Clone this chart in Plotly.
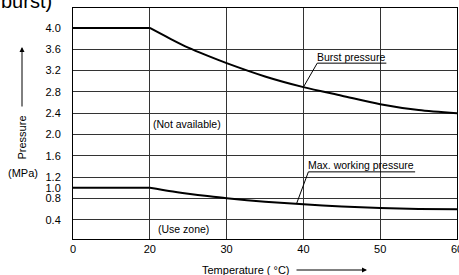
import plotly.graph_objects as go

# ---- data ----
temps = [0, 20, 22.5, 25, 27.5, 30, 35, 40, 45, 50, 55, 60]
burst_pressure = [4.0, 4.0, 3.81, 3.63, 3.48, 3.34, 3.09, 2.89, 2.73, 2.57, 2.46, 2.40]
max_working_pressure = [1.0, 1.0, 0.94, 0.89, 0.845, 0.805, 0.74, 0.69, 0.65, 0.62, 0.605, 0.60]

x_tick_temps = [0, 20, 30, 40, 50, 60]
x_tick_labels = ["0", "20", "30", "40", "50", "60"]
y_tick_vals = [4.0, 3.6, 3.2, 2.8, 2.4, 2.0, 1.6, 1.2, 1.0, 0.8, 0.4]
y_grid_vals = [3.6, 3.2, 2.8, 2.4, 2.0, 1.6, 1.2, 0.8, 0.4]


def temp_to_pos(t):
    # the axis compresses 0-20 °C into one grid cell
    return t / 20.0 if t <= 20 else 1.0 + (t - 20) / 10.0


xs = [temp_to_pos(t) for t in temps]
FONT = "Liberation Sans, Arial, sans-serif"

fig = go.Figure()
for vals in (burst_pressure, max_working_pressure):
    # flat part (0-20 °C) straight, the falling part smooth
    fig.add_trace(go.Scatter(x=xs[:2], y=vals[:2], mode="lines",
                             line=dict(color="black", width=2), hoverinfo="skip"))
    fig.add_trace(go.Scatter(x=xs[1:], y=vals[1:], mode="lines",
                             line=dict(color="black", width=2, shape="spline", smoothing=0.8),
                             hoverinfo="skip"))

fig.update_layout(
    width=459, height=275,
    margin=dict(l=73, r=2, t=8, b=36, autoexpand=False),
    paper_bgcolor="white", plot_bgcolor="white",
    showlegend=False,
    font=dict(family=FONT, size=11, color="black"),
    xaxis=dict(range=[0, 5], tickmode="array",
               tickvals=[temp_to_pos(t) for t in x_tick_temps],
               ticktext=x_tick_labels,
               showgrid=True, gridcolor="#333", gridwidth=1,
               showline=True, linecolor="black", linewidth=1, mirror=True,
               ticks="", zeroline=False, ticklabelstandoff=0, automargin=False,
               ticklabeloverflow="allow", tickfont=dict(size=11)),
    yaxis=dict(range=[0.04, 4.375], tickmode="array",
               tickvals=y_tick_vals,
               ticktext=[f"{v:.1f}" for v in y_tick_vals],
               showgrid=False,
               minor=dict(tickmode="array", tickvals=y_grid_vals,
                          showgrid=True, gridcolor="#333", gridwidth=1, ticks=""),
               showline=True, linecolor="black", linewidth=1, mirror=True,
               ticks="", zeroline=False, ticklabelstandoff=9, automargin=False,
               ticklabeloverflow="allow", tickfont=dict(size=11)),
)

# curve labels with underline + leader
def label_line(t_text0, t_text1, y_line, t_pt, y_pt):
    fig.add_shape(type="line", xref="x", yref="y",
                  x0=temp_to_pos(t_text0), x1=temp_to_pos(t_text1), y0=y_line, y1=y_line,
                  line=dict(color="black", width=1))
    fig.add_shape(type="line", xref="x", yref="y",
                  x0=temp_to_pos(t_text0), x1=temp_to_pos(t_pt), y0=y_line, y1=y_pt,
                  line=dict(color="black", width=1))

label_line(41.8, 50.8, 3.34, 40.0, 2.89)
label_line(40.65, 54.55, 1.30, 39.1, 0.70)

annots = [
    dict(x=temp_to_pos(41.5), y=3.45, text="Burst pressure", xanchor="left"),
    dict(x=temp_to_pos(40.4), y=1.43, text="Max. working pressure", xanchor="left"),
    dict(x=temp_to_pos(20.2), y=2.2, text="(Not available)", xanchor="left"),
    dict(x=temp_to_pos(20.8), y=0.23, text="(Use zone)", xanchor="left"),
]
for a in annots:
    fig.add_annotation(xref="x", yref="y", showarrow=False, yanchor="middle",
                       font=dict(size=10.5, family=FONT), **a)

def px(xp):
    return (xp - 73) / 384.0

def py(yp):
    return (239 - yp) / 231.0

# axis titles and arrows
fig.add_annotation(xref="paper", yref="paper", x=px(21), y=py(137.5), text="Pressure",
                   textangle=-90, showarrow=False, xanchor="center", yanchor="middle",
                   font=dict(size=11, family=FONT))
fig.add_annotation(xref="paper", yref="paper", x=px(22.5), y=py(173), text="(MPa)",
                   showarrow=False, xanchor="center", yanchor="middle",
                   font=dict(size=11, family=FONT))
fig.add_annotation(xref="paper", yref="paper", x=px(246), y=py(270), text="Temperature ( °C)",
                   showarrow=False, xanchor="center", yanchor="middle",
                   font=dict(size=11, family=FONT))
fig.add_annotation(xref="paper", yref="paper", x=px(22), y=py(47), text="",
                   showarrow=True, ax=0, ay=61, arrowhead=2, arrowsize=1, arrowwidth=1,
                   arrowcolor="black")
fig.add_annotation(xref="paper", yref="paper", x=px(367), y=py(270), text="",
                   showarrow=True, ax=-72, ay=0, arrowhead=2, arrowsize=1, arrowwidth=1,
                   arrowcolor="black")
# cropped heading at the top-left
fig.add_annotation(xref="paper", yref="paper", x=px(-1), y=py(14.5), text="burst)",
                   xanchor="left", yanchor="bottom", showarrow=False,
                   font=dict(size=20, family=FONT))

fig.write_html("out.html", config={"displayModeBar": False},
               post_script="document.body.style.margin='0';document.body.style.overflow='hidden';")
